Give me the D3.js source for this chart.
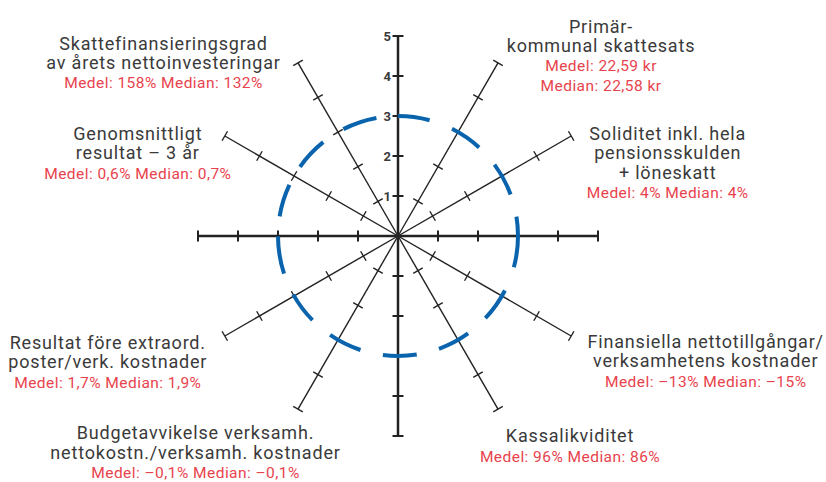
<!DOCTYPE html>
<html>
<head>
<meta charset="utf-8">
<script src="https://cdn.jsdelivr.net/npm/d3@7"></script>
<style>
  body { margin: 0; background: #fff; }
  svg { display: block; }
  .title { font-family: Roboto, sans-serif; font-size: 18px; letter-spacing: 0.8px; fill: #3a3a3a; }
  .stat { font-family: Roboto, sans-serif; font-size: 15.5px; letter-spacing: 0.45px; fill: #e8434d; }
  .num { font-family: Roboto, sans-serif; font-size: 13px; font-weight: bold; fill: #3a3a3a; }
</style>
</head>
<body>
<svg id="chart" width="826" height="482"></svg>
<script>
// spokes every 30 degrees, measured clockwise from 12 o'clock
const spokeAngles = d3.range(0, 360, 30);
const tickValues = [1, 2, 3, 4, 5];
const axisLabels = ["1", "2", "3", "4", "5"];
const circleValue = 3;

const labelAngles = [30, 60, 120, 150, 210, 240, 300, 330];
const labelTitles = [
    ["Primär-", "kommunal skattesats"],
    ["Soliditet inkl. hela", "pensionsskulden", "+ löneskatt"],
    ["Finansiella nettotillgångar/", "verksamhetens kostnader"],
    ["Kassalikviditet"],
    ["Budgetavvikelse verksamh.", "nettokostn./verksamh. kostnader"],
    ["Resultat före extraord.", "poster/verk. kostnader"],
    ["Genomsnittligt", "resultat – 3 år"],
    ["Skattefinansieringsgrad", "av årets nettoinvesteringar"]
];
const labelStats = [
    ["Medel: 22,59 kr", "Median: 22,58 kr"],
    ["Medel: 4% Median: 4%"],
    ["Medel: –13% Median: –15%"],
    ["Medel: 96% Median: 86%"],
    ["Medel: –0,1% Median: –0,1%"],
    ["Medel: 1,7% Median: 1,9%"],
    ["Medel: 0,6% Median: 0,7%"],
    ["Medel: 158% Median: 132%"]
];

// layout: where each label block sits relative to its spoke end (dx, dy of first baseline)
const labelOffsets = [
    [103, -30], [96.5, 4], [134.5, 12], [72, 33],
    [-102.5, 30], [-117, 13], [-87, 4], [-134.5, -13]
];

const cx = 398, cy = 236;
const lineH = 19.3;
const tickHalf = 5.5;
// hand drawn dash pattern of the reference circle, starting at 12 o'clock
const circleDash = "32 24 33 23 34 23 51 25 34 23 33 23 34 23 34 23 32 23 38 20 33 21 34 24 35 22";

const svg = d3.select("#chart");

const r = d3.scaleLinear().domain([0, 5]).range([0, 200]);

function pt(angle, v) {
    let a = angle * Math.PI / 180;
    return [cx + r(v) * Math.sin(a), cy - r(v) * Math.cos(a)];
}

let axisG = svg.append("g");

// spokes
axisG.selectAll("line.spoke")
    .data(spokeAngles)
    .enter()
    .append("line")
    .attr("class", "spoke")
    .attr("x1", cx).attr("y1", cy)
    .attr("x2", d => pt(d, 5)[0])
    .attr("y2", d => pt(d, 5)[1])
    .attr("stroke", "#222")
    .attr("stroke-width", d => d % 90 === 0 ? 2.5 : 1.4);

// ticks across every spoke
let tickData = [];
spokeAngles.forEach(a => tickValues.forEach(v => tickData.push({angle: a, v: v})));

axisG.selectAll("line.tick")
    .data(tickData)
    .enter()
    .append("line")
    .attr("class", "tick")
    .attr("x1", d => pt(d.angle, d.v)[0] - tickHalf * Math.cos(d.angle * Math.PI / 180))
    .attr("y1", d => pt(d.angle, d.v)[1] - tickHalf * Math.sin(d.angle * Math.PI / 180))
    .attr("x2", d => pt(d.angle, d.v)[0] + tickHalf * Math.cos(d.angle * Math.PI / 180))
    .attr("y2", d => pt(d.angle, d.v)[1] + tickHalf * Math.sin(d.angle * Math.PI / 180))
    .attr("stroke", "#222")
    .attr("stroke-width", d => d.angle % 90 === 0 ? 2 : 1.4);

// numbers on the upward axis
axisG.selectAll("text.num")
    .data(tickValues)
    .enter()
    .append("text")
    .attr("class", "num")
    .attr("x", cx - 7)
    .attr("y", d => cy - r(d))
    .attr("dy", "0.35em")
    .attr("text-anchor", "end")
    .text((d, i) => axisLabels[i]);

// dashed circle at 3
svg.append("circle")
    .attr("cx", cx).attr("cy", cy)
    .attr("r", r(circleValue))
    .attr("transform", `rotate(-90 ${cx} ${cy})`)
    .attr("fill", "none")
    .attr("stroke", "#0a64ad")
    .attr("stroke-width", 4)
    .attr("stroke-dasharray", circleDash);

// labels
let labelG = svg.selectAll("g.label")
    .data(labelAngles)
    .enter()
    .append("g")
    .attr("class", "label")
    .attr("transform", (d, i) => {
        let p = pt(d, 5);
        return `translate(${p[0] + labelOffsets[i][0]},${p[1] + labelOffsets[i][1]})`;
    });

labelG.each(function(d, i) {
    let g = d3.select(this);
    let lines = labelTitles[i].map(t => ({t: t, cls: "title"}))
        .concat(labelStats[i].map(t => ({t: t, cls: "stat"})));
    g.selectAll("text")
        .data(lines)
        .enter()
        .append("text")
        .attr("class", l => l.cls)
        .attr("text-anchor", "middle")
        .attr("x", 0)
        .attr("y", (l, j) => j * lineH)
        .text(l => l.t);
});
</script>
</body>
</html>
